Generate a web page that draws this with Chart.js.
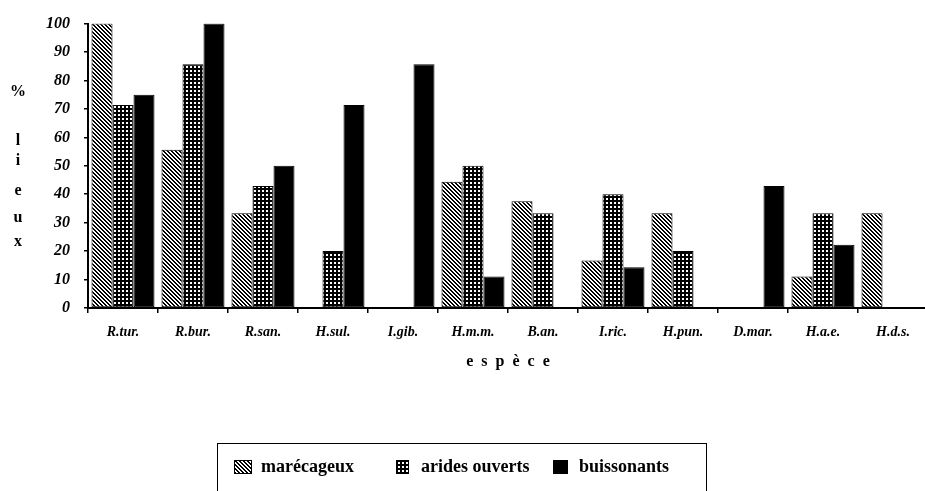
<!DOCTYPE html>
<html>
<head>
<meta charset="utf-8">
<script src="https://cdn.jsdelivr.net/npm/chart.js@4.4.0/dist/chart.umd.min.js"></script>
<style>
html,body{margin:0;padding:0;background:#fff;overflow:hidden;width:925px;height:491px}
#wrap{position:absolute;left:0;top:0;width:930px;height:491px}
.yt{position:absolute;left:8px;width:20px;text-align:center;font:bold 16px 'Liberation Serif',serif;color:#000;line-height:16px}
#legend{position:absolute;left:217px;top:443px;width:490px;height:60px;border:1.5px solid #000;box-sizing:border-box}
.sw{position:absolute;top:16px;height:14px}
.lt{position:absolute;top:12px;font:bold 18px 'Liberation Serif',serif;color:#000;line-height:20px;white-space:nowrap}
</style>
</head>
<body>
<div id="wrap"><canvas id="chart-lieux" width="930" height="491"></canvas></div>
<div class="yt" style="top:83px">%</div>
<div class="yt" style="top:132px">l</div>
<div class="yt" style="top:152px">i</div>
<div class="yt" style="top:182px">e</div>
<div class="yt" style="top:209px">u</div>
<div class="yt" style="top:233px">x</div>
<div id="legend"></div>
<script>
const ESPECES = ['R.tur.','R.bur.','R.san.','H.sul.','I.gib.','H.m.m.','B.an.','I.ric.','H.pun.','D.mar.','H.a.e.','H.d.s.'];
const MARECAGEUX = [100,55.6,33.3,0,0,44.4,37.5,16.7,33.3,0,11.1,33.3];
const ARIDES = [71.4,85.7,42.9,20,0,50,33.3,40,20,0,33.3,0];
const BUISSONANTS = [75,100,50,71.4,85.7,11.1,0,14.3,0,42.9,22.2,0];
const Y_TICKS = [0,10,20,30,40,50,60,70,80,90,100];
const SERIES = ['marécageux','arides ouverts','buissonants'];

// motifs noir/blanc
function tile(n,fn) {
  const c=document.createElement('canvas'); c.width=n; c.height=n;
  const x=c.getContext('2d'); x.fillStyle='#fff'; x.fillRect(0,0,n,n); x.fillStyle='#000';
  for(let i=0;i<n;i++) for(let j=0;j<n;j++) if(fn(i,j)) x.fillRect(i,j,1,1);
  return c;
}
const hatchTile = tile(4,(i,j)=>((i-j+8)%4)<2);
const gridTile = tile(4,(i,j)=>i<2||j<2);
function pat(ctx,t){ return ctx.createPattern(t,'repeat'); }

const el=document.getElementById('chart-lieux');
const ctx=el.getContext('2d');
const fills=[pat(ctx,hatchTile),pat(ctx,gridTile),'#000'];

const serif="'Liberation Serif', serif";

new Chart(ctx,{
  type:'bar',
  data:{labels:ESPECES,datasets:[
    {label:SERIES[0],data:MARECAGEUX,backgroundColor:fills[0]},
    {label:SERIES[1],data:ARIDES,backgroundColor:fills[1]},
    {label:SERIES[2],data:BUISSONANTS,backgroundColor:fills[2]},
  ]},
  options:{
    responsive:false,animation:false,
    layout:{padding:{top:20,bottom:119,left:0,right:2}},
    datasets:{bar:{categoryPercentage:0.9,barPercentage:1,borderColor:'#000',borderWidth:1,borderSkipped:false}},
    plugins:{legend:{display:false},tooltip:{enabled:false}},
    scales:{
      x:{
        afterFit:s=>{s.height=64;},
        grid:{display:true,drawOnChartArea:false,offset:true,tickLength:5,color:'#000',lineWidth:1.5},
        border:{display:true,color:'#000',width:2},
        ticks:{color:'#000',padding:11,maxRotation:0,font:{family:serif,size:14,style:'italic',weight:'bold'}},
        title:{display:true,text:'e  s  p  è  c  e',color:'#000',padding:{top:0,bottom:1},font:{family:serif,size:16,weight:'bold'}},
      },
      y:{
        min:0,max:100,
        afterFit:s=>{s.width=88;},
        afterBuildTicks:s=>{s.ticks=Y_TICKS.map(v=>({value:v}));},
        grid:{display:true,drawOnChartArea:false,tickLength:4,color:'#000',lineWidth:1.5},
        border:{display:true,color:'#000',width:2},
        ticks:{color:'#000',padding:14,font:{family:serif,size:16,style:'italic',weight:'bold'}},
      },
    },
  },
});

// légende encadrée
const leg=document.getElementById('legend');
const items=[{sw:16,w:18,tx:43},{sw:178,w:13,tx:203},{sw:335,w:15,tx:361}];
items.forEach((it,k)=>{
  const c=document.createElement('canvas'); c.className='sw'; c.width=it.w; c.height=14;
  c.style.left=it.sw+'px';
  const g=c.getContext('2d'); g.fillStyle=k<2?g.createPattern(k?gridTile:hatchTile,'repeat'):'#000';
  g.fillRect(0,0,it.w,14); g.strokeStyle='#000'; g.lineWidth=1; g.strokeRect(0.5,0.5,it.w-1,13);
  leg.appendChild(c);
  const t=document.createElement('div'); t.className='lt'; t.style.left=it.tx+'px'; t.textContent=SERIES[k];
  leg.appendChild(t);
});
</script>
</body>
</html>
